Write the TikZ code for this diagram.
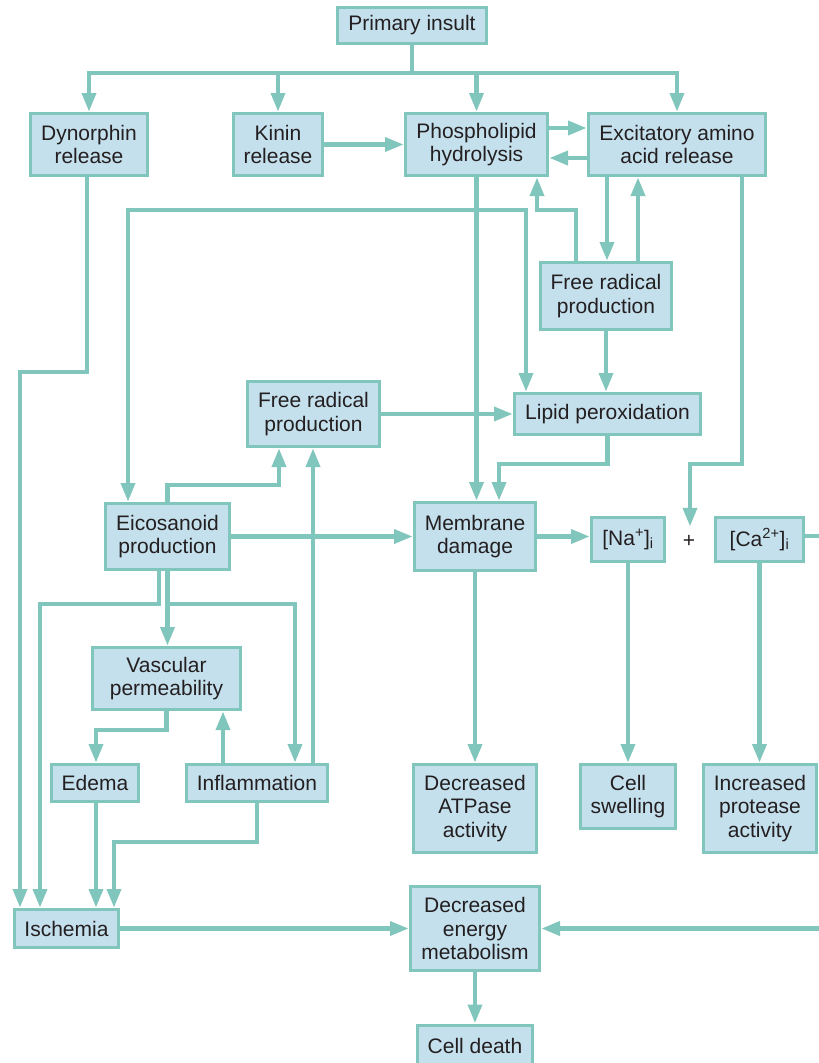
\documentclass[tikz,border=0pt]{standalone}
\usepackage{fontspec}
\setmainfont{Liberation Sans}
\usetikzlibrary{arrows.meta}
\definecolor{edgec}{RGB}{128,198,188}
\definecolor{boxfill}{RGB}{197,224,237}
\definecolor{txt}{RGB}{35,31,32}
\begin{document}
\begin{tikzpicture}[x=1pt,y=-1pt,
  box/.style={draw=edgec, fill=boxfill, line width=3pt, inner sep=0pt, align=center,
    text=txt, font=\fontsize{21}{23.5}\selectfont},
  conn/.style={draw=edgec, line width=4.8pt},
  arr/.style={conn, -{Triangle[length=19pt,width=13.5pt]}}]
\useasboundingbox (0,0) rectangle (819,1063);
% nodes
\node[box, minimum width=149pt, minimum height=36pt] (pi) at (412,25.5) {Primary insult};
\node[box, minimum width=117pt, minimum height=62pt] (dyn) at (89,144.5) {Dynorphin\\release};
\node[box, minimum width=89pt, minimum height=62pt] (kin) at (278,144.5) {Kinin\\release};
\node[box, minimum width=142pt, minimum height=62pt] (phl) at (476.5,144.5) {Phospholipid\\hydrolysis};
\node[box, minimum width=177pt, minimum height=62pt] (exc) at (677,144.5) {Excitatory amino\\acid release};
\node[box, minimum width=131pt, minimum height=67pt] (fr1) at (606,296) {Free radical\\production};
\node[box, minimum width=186pt, minimum height=41pt] (lip) at (607.5,414) {Lipid peroxidation};
\node[box, minimum width=132pt, minimum height=65pt] (fr2) at (313.5,414) {Free radical\\production};
\node[box, minimum width=124pt, minimum height=66pt] (eic) at (167.5,536.5) {Eicosanoid\\production};
\node[box, minimum width=121pt, minimum height=68pt] (mem) at (475,536.5) {Membrane\\damage};
\node[box, minimum width=73pt, minimum height=44pt] (na) at (628,539.5) {[Na\textsuperscript{+}]\textsubscript{i}};
\node[inner sep=0pt, minimum height=28pt, text=txt, font=\fontsize{21}{23.5}\selectfont] (plus) at (689,541) {+};
\node[box, minimum width=88pt, minimum height=44pt] (ca) at (759.5,539.5) {[Ca\textsuperscript{2+}]\textsubscript{i}};
\node[box, minimum width=148pt, minimum height=62pt] (vas) at (166.5,678.5) {Vascular\\permeability};
\node[box, minimum width=87pt, minimum height=37pt] (ede) at (95,783) {Edema};
\node[box, minimum width=141pt, minimum height=37pt] (inf) at (257,783) {Inflammation};
\node[box, minimum width=123pt, minimum height=88pt] (atp) at (475,808.5) {Decreased\\ATPase\\activity};
\node[box, minimum width=95pt, minimum height=64pt] (cs) at (628,796.5) {Cell\\swelling};
\node[box, minimum width=113pt, minimum height=88pt] (pro) at (760,808.5) {Increased\\protease\\activity};
\node[box, minimum width=104pt, minimum height=38pt] (isc) at (66.5,928.5) {Ischemia};
\node[box, minimum width=129pt, minimum height=84pt] (dem) at (475,928.5) {Decreased\\energy\\metabolism};
\node[box, minimum width=115pt, minimum height=41pt] (cd) at (475,1045.5) {Cell death};
% helper coordinates
\coordinate (bus) at (412,73);
\coordinate (br) at (476.5,210);
\coordinate (caout) at (830,536);
\coordinate (rin) at (830,928.5);
% connectors
\draw[arr] (pi.south) -- (bus) -| (dyn.north);
\draw[arr] (bus) -| (kin.north);
\draw[arr] (bus) -| (phl.north);
\draw[arr] (bus) -| (exc.north);
\draw[arr] (kin.east) -- (phl.west);
\draw[arr] ([yshift=16.5]phl.east) -- ([yshift=16.5]exc.west);
\draw[arr] ([yshift=-13.5]exc.west) -- ([yshift=-13.5]phl.east);
\draw[arr] ([xshift=-2]dyn.south) -- (87,372) -| ([xshift=-46.5]isc.north);
\draw[arr] (phl.south) -- (phl.south |- mem.north);
\draw[arr] (br) -| ([xshift=-39.5]eic.north);
\draw[arr] (br) -| ([xshift=-81.5]lip.north);
\draw[arr] ([xshift=-30]fr1.north) -- (576,210) -| ([xshift=60.5]phl.south);
\draw[arr] ([xshift=-70]exc.south) -- ([xshift=1]fr1.north);
\draw[arr] ([xshift=32]fr1.north) -- ([xshift=-39]exc.south);
\draw[arr] (fr1.south) -- ([xshift=-1.5]lip.north);
\draw[arr] ([xshift=65]exc.south) -- (742,464) -| ([xshift=1]plus.north);
\draw[arr] (lip.south) -- (607.5,464) -| ([xshift=24]mem.north);
\draw[arr] (fr2.east) -- (lip.west);
\draw[arr] (eic.north) -- (167.5,485) -| ([xshift=-34.5]fr2.south);
\draw[arr] ([xshift=56]inf.north) -- ([xshift=-0.5]fr2.south);
\draw[arr] (eic.east) -- (mem.west);
\draw[arr] ([xshift=-8.5]eic.south) -- (159,604) -| ([xshift=-26.5]isc.north);
\draw[arr] (eic.south) -- (eic.south |- vas.north);
\draw[arr] (167.5,604) -| ([xshift=38]inf.north);
\draw[arr] (vas.south) -- (166.5,730) -| ([xshift=1]ede.north);
\draw[arr] ([xshift=-34]inf.north) -- ([xshift=56.5]vas.south);
\draw[arr] ([xshift=1]ede.south) -- ([xshift=29.5]isc.north);
\draw[arr] (inf.south) -- (257,842) -| ([xshift=47.5]isc.north);
\draw[arr] (isc.east) -- (dem.west);
\draw[arr] (mem.south) -- (atp.north);
\draw[arr] (mem.east) -- (mem.east -| na.west);
\draw[arr] (na.south) -- (cs.north);
\draw[arr] (ca.south) -- (ca.south |- pro.north);
\draw[conn] (ca.east |- caout) -- (caout);
\draw[arr] (rin) -- (dem.east);
\draw[arr] (dem.south) -- (cd.north);
\end{tikzpicture}
\end{document}
